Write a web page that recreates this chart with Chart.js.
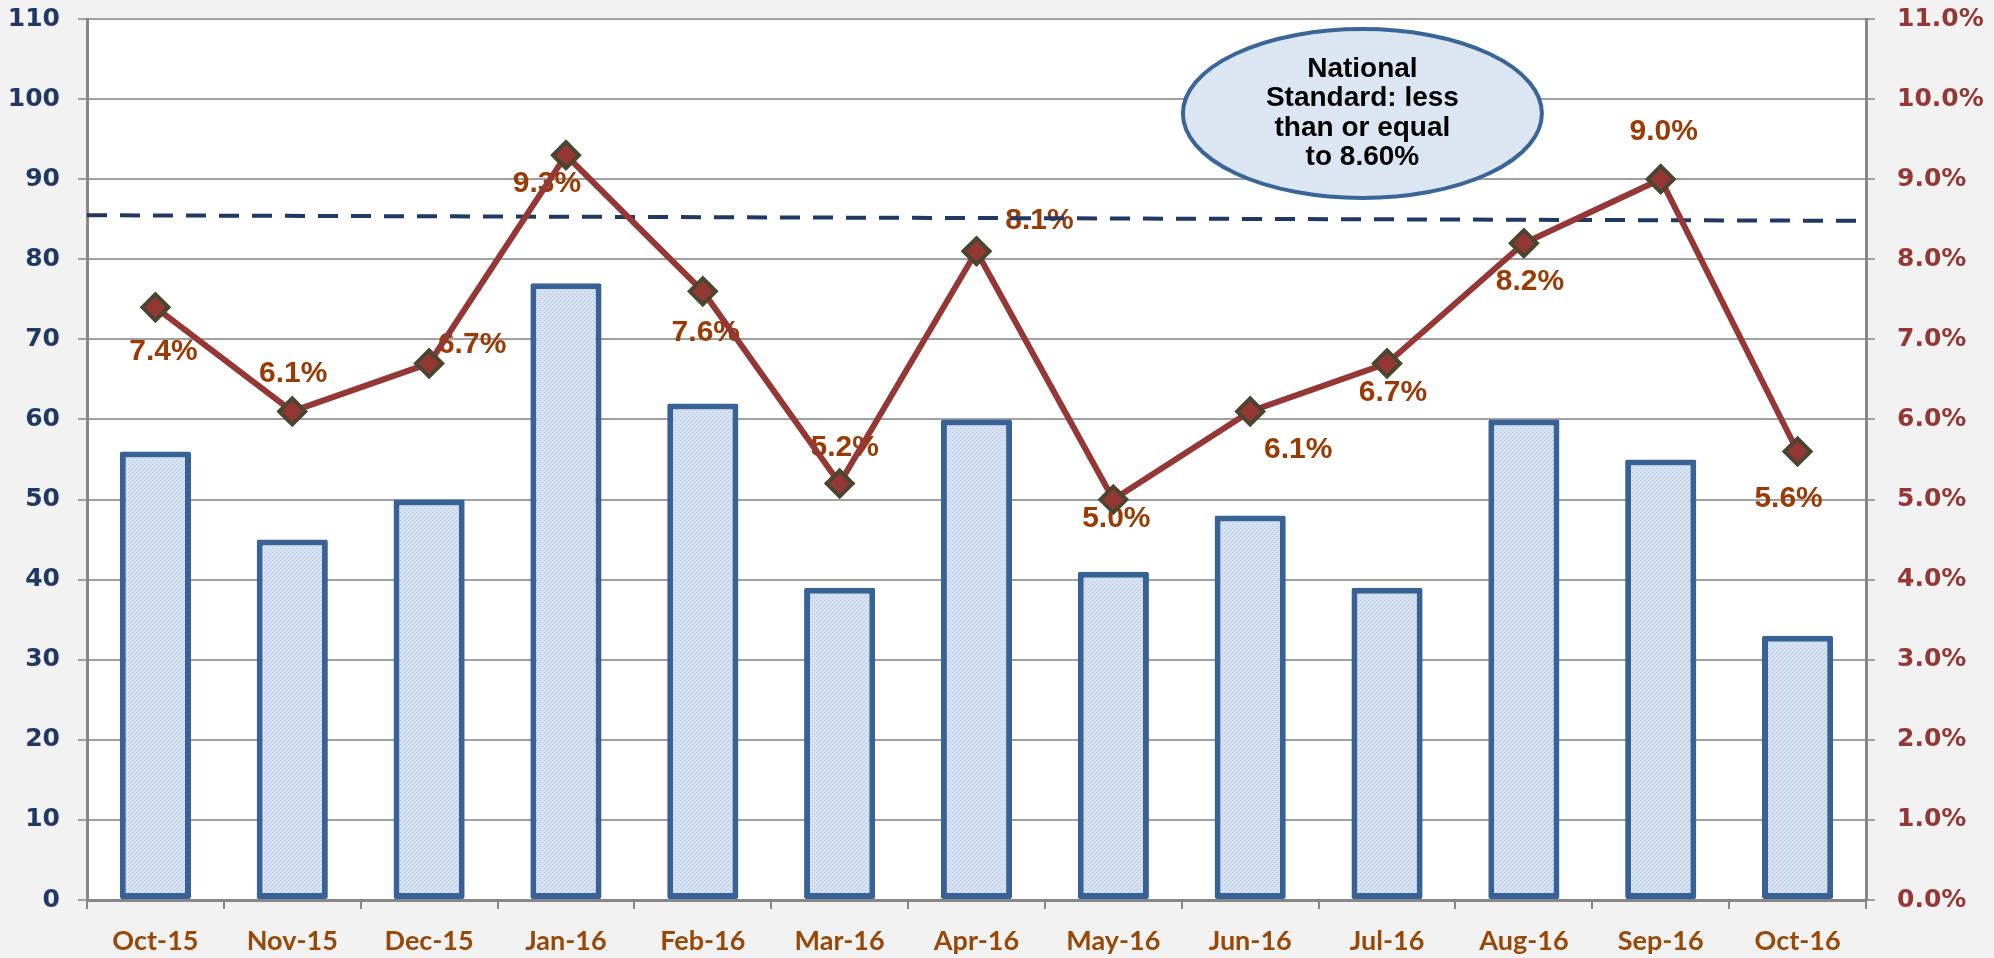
<!DOCTYPE html>
<html>
<head>
<meta charset="utf-8">
<script src="https://cdn.jsdelivr.net/npm/chart.js@4.4.1/dist/chart.umd.min.js"></script>
<style>
  html, body { margin: 0; padding: 0; background: #f2f2f2; }
  #wrap { width: 1994px; height: 958px; position: relative; }
</style>
</head>
<body>
<div id="wrap"><canvas id="rateChart"></canvas></div>
<script>
// chart data
const months = ['Oct-15', 'Nov-15', 'Dec-15', 'Jan-16', 'Feb-16', 'Mar-16', 'Apr-16',
                'May-16', 'Jun-16', 'Jul-16', 'Aug-16', 'Sep-16', 'Oct-16'];
const counts = [56, 45, 50, 77, 62, 39, 60, 41, 48, 39, 60, 55, 33];
const rates = [7.4, 6.1, 6.7, 9.3, 7.6, 5.2, 8.1, 5.0, 6.1, 6.7, 8.2, 9.0, 5.6];
const standardLine = [85.5, 84.8];   // dashed reference line, left-axis units (start, end)
const standardText = ['National', 'Standard: less', 'than or equal', 'to 8.60%'];

// where each % label sits relative to its marker (px)
const labelDx = [8, 1, 43, -19, 3, 5, 63, 3, 48, 6, 6, 3, -9];
const labelDy = [44, -38, -19, 29, 41, -36, -31, 19, 38, 29, 38, -47, 47];

const W = 1994, H = 958;

function makeBarPattern() {
    const c = document.createElement('canvas');
    c.width = 4; c.height = 4;
    const g = c.getContext('2d');
    g.fillStyle = '#d4e0f0';
    g.fillRect(0, 0, 4, 4);
    g.fillStyle = '#b8cce4';
    g.fillRect(0, 0, 1, 1);
    g.fillRect(2, 2, 1, 1);
    return g.createPattern(c, 'repeat');
}

const plotBackground = {
    id: 'plotBackground',
    beforeDraw(chart) {
        const { ctx, chartArea: a } = chart;
        ctx.save();
        ctx.fillStyle = '#ffffff';
        ctx.fillRect(a.left, a.top, a.right - a.left, a.bottom - a.top);
        ctx.restore();
    }
};

const rateLabels = {
    id: 'rateLabels',
    beforeDatasetsDraw(chart) {
        const meta = chart.getDatasetMeta(1);
        const ctx = chart.ctx;
        ctx.save();
        ctx.font = 'bold 30px "Liberation Sans", Arial, sans-serif';
        ctx.fillStyle = '#9a3b06';
        ctx.textAlign = 'center';
        ctx.textBaseline = 'middle';
        meta.data.forEach((pt, i) => {
            ctx.fillText(rates[i].toFixed(1) + '%', pt.x + labelDx[i], pt.y + labelDy[i]);
        });
        ctx.restore();
    }
};

const standardBubble = {
    id: 'standardBubble',
    afterDatasetsDraw(chart) {
        const ctx = chart.ctx;
        const cx = chart.scales.x.getPixelForValue(8.82);
        const cy = chart.scales.y.getPixelForValue(98.2);
        ctx.save();
        ctx.beginPath();
        ctx.ellipse(cx, cy, 179.5, 84.5, 0, 0, Math.PI * 2);
        ctx.fillStyle = '#dce6f2';
        ctx.fill();
        ctx.lineWidth = 4;
        ctx.strokeStyle = '#3a6598';
        ctx.stroke();
        ctx.fillStyle = '#000000';
        ctx.font = 'bold 28px "Liberation Sans", Arial, sans-serif';
        ctx.textAlign = 'center';
        ctx.textBaseline = 'middle';
        const lh = 29.5;
        standardText.forEach((t, i) => {
            ctx.fillText(t, cx, cy + (i - (standardText.length - 1) / 2) * lh);
        });
        ctx.restore();
    }
};

const ctx = document.getElementById('rateChart');

new Chart(ctx, {
    type: 'bar',
    data: {
        labels: months,
        datasets: [
            {
                type: 'bar',
                data: counts,
                yAxisID: 'y',
                xAxisID: 'x',
                backgroundColor: makeBarPattern(),
                borderColor: '#386296',
                borderWidth: 6,
                borderSkipped: false,
                borderRadius: 2,
                grouped: false,
                barPercentage: 0.52,
                categoryPercentage: 1,
                order: 3
            },
            {
                type: 'line',
                data: rates,
                yAxisID: 'y2',
                xAxisID: 'x',
                borderColor: '#953735',
                borderWidth: 6,
                pointStyle: 'rectRot',
                pointRadius: 13,
                pointBorderWidth: 4,
                pointBackgroundColor: '#953735',
                pointBorderColor: '#4b4630',
                tension: 0,
                order: 1
            },
            {
                type: 'line',
                data: [{ x: 0, y: standardLine[0] }, { x: 1, y: standardLine[1] }],
                yAxisID: 'y',
                xAxisID: 'xl',
                borderColor: '#1f3864',
                borderWidth: 4,
                borderDash: [20, 13],
                pointRadius: 0,
                order: 2
            }
        ]
    },
    options: {
        responsive: true,
        maintainAspectRatio: false,
        animation: false,
        layout: { padding: { top: 19, left: 0, right: 0, bottom: 0 } },
        plugins: {
            legend: { display: false },
            tooltip: { enabled: false }
        },
        scales: {
            x: {
                type: 'category',
                offset: true,
                grid: {
                    offset: true,
                    drawOnChartArea: false,
                    drawTicks: true,
                    tickLength: 9,
                    color: '#878787',
                    lineWidth: 2
                },
                border: { color: '#878787', width: 3 },
                ticks: {
                    color: '#984807',
                    font: { family: 'Lato', weight: 'bold', size: 27 },
                    padding: 16,
                    maxRotation: 0
                },
                afterFit(scale) {
                    scale.height = 58;
                    scale.paddingLeft = 0;
                    scale.paddingRight = 0;
                }
            },
            xl: {
                type: 'linear',
                display: false,
                offset: false,
                min: 0,
                max: 1.005
            },
            y: {
                position: 'left',
                min: 0,
                max: 110,
                ticks: {
                    stepSize: 10,
                    color: '#1f3864',
                    font: { family: 'DejaVu Sans', weight: 'bold', size: 25 },
                    padding: 18
                },
                grid: { color: '#a0a0a0', lineWidth: 2, tickLength: 9 },
                border: { color: '#878787', width: 3 },
                afterFit(scale) {
                    scale.width = 87;
                    scale.paddingTop = 0;
                    scale.paddingBottom = 0;
                }
            },
            y2: {
                position: 'right',
                min: 0,
                max: 11,
                ticks: {
                    stepSize: 1,
                    color: '#953735',
                    font: { family: 'DejaVu Sans', weight: 'bold', size: 25 },
                    padding: 22,
                    callback: (v) => v.toFixed(1) + '%'
                },
                grid: { drawOnChartArea: false, color: '#a0a0a0', lineWidth: 2, tickLength: 9 },
                border: { color: '#878787', width: 3 },
                afterFit(scale) {
                    scale.width = W - 1866;
                    scale.paddingTop = 0;
                    scale.paddingBottom = 0;
                }
            }
        }
    },
    plugins: [plotBackground, rateLabels, standardBubble]
});
</script>
</body>
</html>
